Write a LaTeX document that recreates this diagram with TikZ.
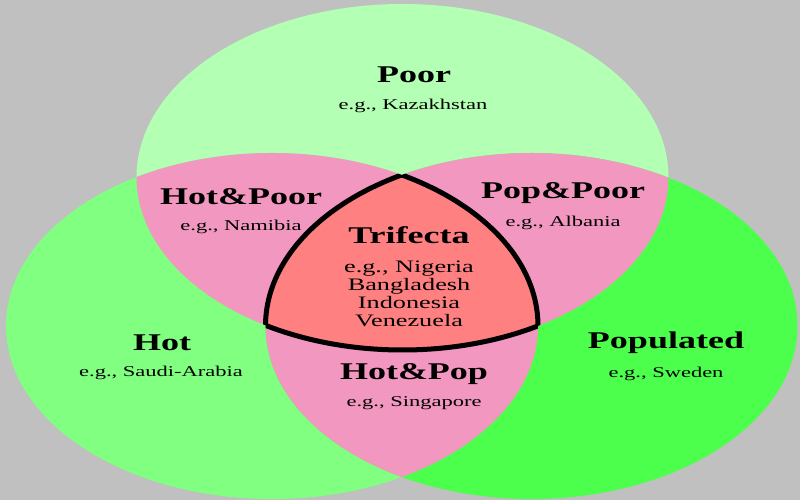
\documentclass[tikz,border=0pt]{standalone}
\usepackage{fontspec}
\setmainfont[FakeStretch=1.5]{Liberation Serif}
\definecolor{bggray}{HTML}{C0C0C0}
\definecolor{poorgreen}{HTML}{B3FFB3}
\definecolor{hotgreen}{HTML}{80FF80}
\definecolor{popgreen}{HTML}{4CFF4C}
\definecolor{pairpink}{HTML}{F298C0}
\definecolor{trisalmon}{HTML}{FF8080}
\begin{document}
\begin{tikzpicture}[x=1pt, y=1pt, x radius=266pt, y radius=173pt,
  regionname/.style={font=\bfseries\fontsize{24}{28}\selectfont},
  regionex/.style={font=\fontsize{15}{18}\selectfont},
  trilist/.style={font=\fontsize{17.5}{18}\selectfont, align=center},
  triedge/.style={draw=black, line width=5pt}]
  \fill[bggray] (0,0) rectangle (800,500);
  \useasboundingbox (0,0) rectangle (800,500);
  % centres of the three sets
  \coordinate (poorc) at (402.5,323);
  \coordinate (hotc) at (272,174);
  \coordinate (popc) at (531.5,174);
  % the three sets
  \fill[poorgreen] (poorc) circle;
  \fill[hotgreen] (hotc) circle;
  \fill[popgreen] (popc) circle;
  % pairwise overlaps
  \begin{scope}
    \clip (poorc) circle;
    \fill[pairpink] (hotc) circle;
    \fill[pairpink] (popc) circle;
  \end{scope}
  \begin{scope}
    \clip (hotc) circle;
    \fill[pairpink] (popc) circle;
  \end{scope}
  % all three
  \begin{scope}
    \clip (poorc) circle;
    \clip (hotc) circle;
    \fill[trisalmon] (popc) circle;
  \end{scope}
  \begin{scope}
    \clip (poorc) circle;
    \clip (hotc) circle;
    \draw[triedge] (popc) circle;
  \end{scope}
  \begin{scope}
    \clip (poorc) circle;
    \clip (popc) circle;
    \draw[triedge] (hotc) circle;
  \end{scope}
  \begin{scope}
    \clip (hotc) circle;
    \clip (popc) circle;
    \draw[triedge] (poorc) circle;
  \end{scope}
  % labels
  \node[regionname] (poor) at (414,425) {Poor};
  \node[regionex] (poorex) at (413,394) {e.g., Kazakhstan};
  \node[regionname] (hotpoor) at (241,303) {Hot\&Poor};
  \node[regionex] (hotpoorex) at (241,273) {e.g., Namibia};
  \node[regionname] (poppoor) at (563,307) {Pop\&Poor};
  \node[regionex] (poppoorex) at (563,277) {e.g., Albania};
  \node[regionname] (tri) at (409,265) {Trifecta};
  \node[trilist] (triex) at (409,206) {e.g., Nigeria\\Bangladesh\\Indonesia\\Venezuela};
  \node[regionname] (hot) at (162,157) {Hot};
  \node[regionex] (hotex) at (161,127) {e.g., Saudi-Arabia};
  \node[regionname] (hotpop) at (414,126) {Hot\&Pop};
  \node[regionex] (hotpopex) at (414,97) {e.g., Singapore};
  \node[regionname] (pop) at (666,157) {Populated};
  \node[regionex] (popex) at (666,126) {e.g., Sweden};
\end{tikzpicture}
\end{document}
